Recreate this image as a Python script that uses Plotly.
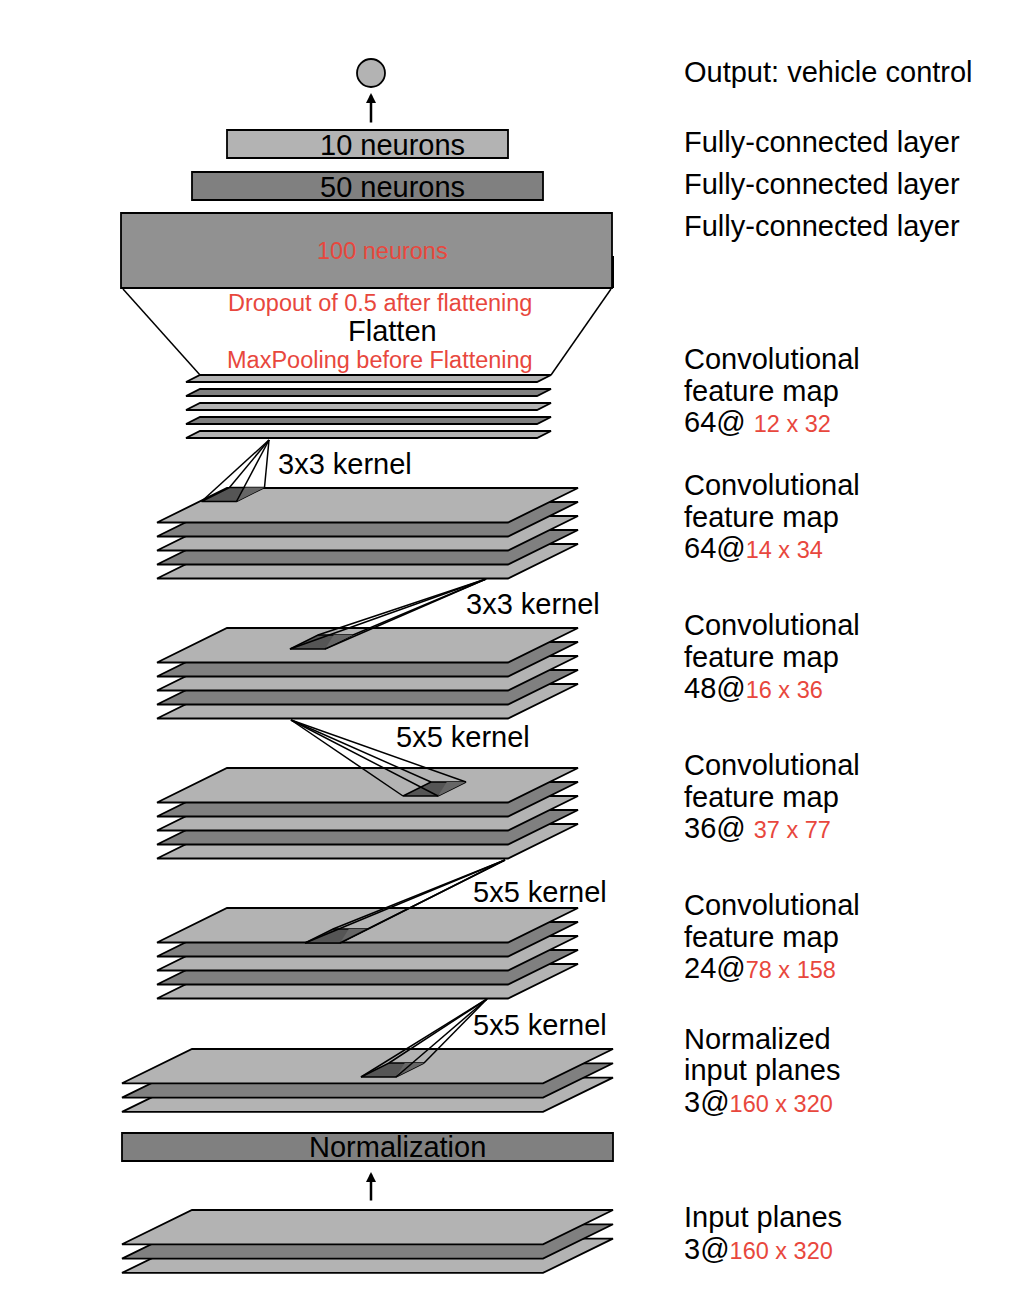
import plotly.graph_objects as go

# ---- diagram content (top of network first) ----
output_title = "Output: vehicle control"
fc_neurons = ["10 neurons", "50 neurons", "100 neurons"]
fc_titles = ["Fully-connected layer", "Fully-connected layer", "Fully-connected layer"]
flatten_notes = ["Dropout of 0.5 after flattening", "Flatten", "MaxPooling before Flattening"]
conv_depths = [64, 64, 48, 36, 24]
conv_sizes = ["12 x 32", "14 x 34", "16 x 36", "37 x 77", "78 x 158"]
conv_gap = [" ", "", "", " ", ""]
kernel_labels = ["3x3 kernel", "3x3 kernel", "5x5 kernel", "5x5 kernel", "5x5 kernel"]
input_depth = 3
input_size = "160 x 320"
norm_label = "Normalization"

LIGHT = "#b3b3b3"
DARK = "#808080"
MID = "#919191"
KERNEL = "#555555"
RED = "#e8473d"
FONT = "Liberation Sans, Arial, sans-serif"
BIG = 29
SMALL = 23.5
LW = 1.8

PAD = 8  # browser body margin
W, H = 1032, 1296

shapes = []
annotations = []


def poly(pts, fill, lw=LW):
    d = "M " + " L ".join(f"{x},{y}" for x, y in pts) + " Z"
    shapes.append(dict(type="path", path=d, fillcolor=fill,
                       line=dict(color="black", width=lw), xref="x", yref="y"))


def seg(x0, y0, x1, y1, lw=1.5):
    shapes.append(dict(type="line", x0=x0, y0=y0, x1=x1, y1=y1,
                       line=dict(color="black", width=lw), xref="x", yref="y"))


def text(x, y, s, size=BIG, color="black", anchor="left"):
    # annotation box adds ~2px padding on the left
    if anchor == "left":
        x -= 2
    annotations.append(dict(x=x, y=y, text=s, showarrow=False, xanchor=anchor,
                            yanchor="middle", font=dict(family=FONT, size=size, color=color)))


def stack(n, x, w, top, dx, dy, step):
    # slab k=0 is the top one, draw the deepest first
    for k in reversed(range(n)):
        y = top + dy + k * step
        fill = LIGHT if k % 2 == 0 else DARK
        poly([(x, y), (x + w, y), (x + w + dx, y - dy), (x + dx, y - dy)], fill)


def kernel(apex, bl, w=35, dx=28, dy=14):
    ax, ay = apex
    bx, by = bl
    corners = [(bx, by), (bx + w, by), (bx + w + dx, by - dy), (bx + dx, by - dy)]
    poly(corners, KERNEL, lw=1.5)
    # slightly lighter far face of the pyramid base
    poly([corners[1], corners[2], (bx + w * 0.45 + dx, by - dy)], "#666666", lw=0)
    for cx, cy in corners:
        seg(ax, ay, cx, cy)


# output node + arrow
shapes.append(dict(type="circle", x0=357, y0=59, x1=385, y1=87, fillcolor=LIGHT,
                   line=dict(color="black", width=LW), xref="x", yref="y"))
annotations.append(dict(x=371, y=93, ax=371, ay=124, axref="x", ayref="y", text="",
                        showarrow=True, arrowhead=2, arrowsize=0.8, arrowwidth=2.5, arrowcolor="black"))

# fully-connected layers
fc_boxes = [(227, 130, 508, 158, LIGHT), (192, 172, 543, 200, DARK), (121, 213, 612, 288, MID)]
for (x0, y0, x1, y1, fill), lab in zip(fc_boxes, fc_neurons):
    poly([(x0, y0), (x1, y0), (x1, y1), (x0, y1)], fill)
text(392, 145, fc_neurons[0], anchor="center")
text(392, 187, fc_neurons[1], anchor="center")
text(382, 251, fc_neurons[2], size=SMALL, color=RED, anchor="center")
seg(613, 256, 613, 288, lw=2)

# flatten funnel
seg(123, 289, 200, 375)
seg(611, 289, 551, 375)
text(380, 303, flatten_notes[0], size=SMALL, color=RED, anchor="center")
text(392, 331, flatten_notes[1], anchor="center")
text(380, 360, flatten_notes[2], size=SMALL, color=RED, anchor="center")

# convolutional stacks
stack(5, 186, 351, 375, 14, 7, 14)
for top in [488, 628, 768, 908]:
    stack(5, 157, 351, top, 70, 34.5, 14)
stack(input_depth, 122, 421, 1049, 70, 34.3, 14.3)

# normalization + arrow + raw input
poly([(122, 1133), (613, 1133), (613, 1161), (122, 1161)], DARK)
text(397, 1147, norm_label, anchor="center")
annotations.append(dict(x=371, y=1172, ax=371, ay=1202, axref="x", ayref="y", text="",
                        showarrow=True, arrowhead=2, arrowsize=0.8, arrowwidth=2.5, arrowcolor="black"))
stack(input_depth, 122, 421, 1210, 70, 34.3, 14.3)

# kernels
kernel((269, 440), (201.5, 501.5))
kernel((486, 579), (290, 649))
kernel((291, 720), (403, 796))
kernel((505, 860), (305, 943))
kernel((487, 999), (361, 1077))
for (kx, ky), lab in zip([(278, 464), (466, 604), (396, 737), (473, 892), (473, 1025)], kernel_labels):
    text(kx, ky, lab)

# right-hand descriptions
RX = 684
text(RX, 72, output_title)
for y, t in zip([142, 184, 226], fc_titles):
    text(RX, y, t)
for y0, d, s, g in zip([359, 485, 625, 765, 905], conv_depths, conv_sizes, conv_gap):
    text(RX, y0, "Convolutional")
    text(RX, y0 + 31.5, "feature map")
    text(RX, y0 + 63, f"{d}@{g}<span style='color:{RED};font-size:{SMALL}px'>{s}</span>")
text(RX, 1039, "Normalized")
text(RX, 1070, "input planes")
text(RX, 1102, f"{input_depth}@<span style='color:{RED};font-size:{SMALL}px'>{input_size}</span>")
text(RX, 1217, "Input planes")
text(RX, 1249, f"{input_depth}@<span style='color:{RED};font-size:{SMALL}px'>{input_size}</span>")

fig = go.Figure()
fig.update_layout(
    width=W - 2 * PAD, height=H - 2 * PAD,
    margin=dict(l=0, r=0, t=0, b=0),
    paper_bgcolor="white", plot_bgcolor="white",
    shapes=shapes, annotations=annotations, showlegend=False,
    xaxis=dict(range=[PAD, W - PAD], visible=False, fixedrange=True),
    yaxis=dict(range=[H - PAD, PAD], visible=False, fixedrange=True),
)
fig.write_html("out.html", config={"displayModeBar": False})
